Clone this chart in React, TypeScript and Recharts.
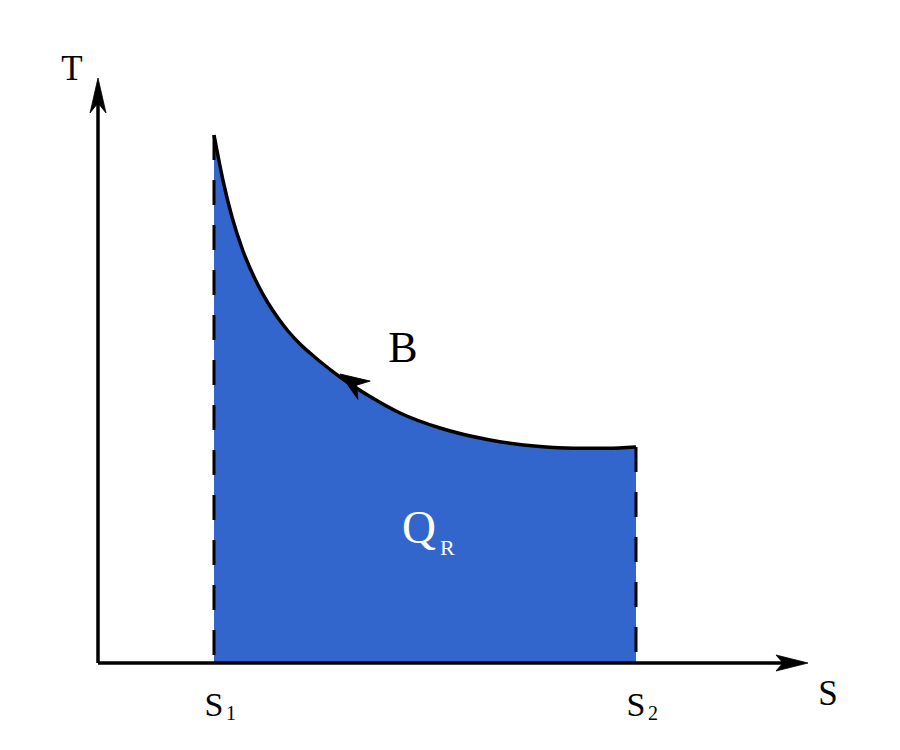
import React from 'react';
import { ComposedChart, Area, XAxis, YAxis, ReferenceLine, ReferenceDot } from 'recharts';

// Entropy (S) and temperature (T) along process B, arbitrary units
const S_VALUES = [1.16, 1.21, 1.26, 1.34, 1.45, 1.6, 1.7, 1.8, 1.9, 2.02, 2.12, 2.22, 2.42, 2.72, 3.02, 3.42, 3.92, 4.42, 4.75, 5.09, 5.38];
const T_VALUES = [5.28, 5.02, 4.78, 4.46, 4.12, 3.78, 3.6, 3.45, 3.32, 3.19, 3.1, 3.015, 2.86, 2.665, 2.5, 2.35, 2.23, 2.165, 2.148, 2.147, 2.16];

const S_TICKS = [1.16, 5.38];
const TICK_MAIN = ['S', 'S'];
const TICK_SUB = ['1', '2'];

const AXIS_X_LABEL = 'S';
const AXIS_Y_LABEL = 'T';
const CURVE_LABEL = 'B';
const HEAT_LABEL = 'Q';
const HEAT_SUB = 'R';

const S_MAX = 6.87;
const T_MAX = 5.63;

const LABEL_B_POS = { s: 3.05, T: 3.01 };
const HEAT_POS = { s: 3.04, T: 1.2 };
const ARROW_AT = { s: 2.42, T: 2.89 };

const data = S_VALUES.map((s, i) => ({ s, T: T_VALUES[i] }));

const FONT = '"Liberation Serif", "DejaVu Serif", serif';
const FILL = '#3366CC';

type ArrowProps = { cx?: number; cy?: number; angle: number; lead: number; len: number; half: number; notch: number };
const ArrowHead = ({ cx = 0, cy = 0, angle, lead, len, half, notch }: ArrowProps) => (
  <g transform={`translate(${cx},${cy}) rotate(${angle})`}>
    <polygon
      points={`${lead},0 ${lead - len},${-half} ${lead - notch},0 ${lead - len},${half}`}
      fill="#000"
      stroke="#000"
      strokeWidth={0.8}
      strokeLinejoin="miter"
    />
  </g>
);

const renderTick = (props: any) => {
  const { x, y, index } = props;
  return (
    <g>
      <text x={x} y={y + 53} textAnchor="middle" fontFamily={FONT} fontSize={34} fill="#000">
        {TICK_MAIN[index]}
      </text>
      <text x={x + 12} y={y + 57} textAnchor="start" fontFamily={FONT} fontSize={20} fill="#000">
        {TICK_SUB[index]}
      </text>
    </g>
  );
};

const renderXLabel = (props: any) => {
  const vb = props.viewBox || {};
  return (
    <text x={vb.x + vb.width + 43} y={vb.y + 42} textAnchor="middle" fontFamily={FONT} fontSize={35} fill="#000">
      {AXIS_X_LABEL}
    </text>
  );
};

const renderYLabel = (props: any) => {
  const vb = props.viewBox || {};
  return (
    <text x={vb.x + vb.width - 26} y={vb.y - 20} textAnchor="middle" fontFamily={FONT} fontSize={35} fill="#000">
      {AXIS_Y_LABEL}
    </text>
  );
};

export default function App() {
  return (
    <div style={{ position: 'absolute', left: 0, top: 0, width: 900, height: 750, background: '#fff' }}>
      <ComposedChart
        width={900}
        height={750}
        data={data}
        margin={{ top: 100, right: 115, bottom: 57, left: 46 }}
      >
        <XAxis
          dataKey="s"
          type="number"
          domain={[0, S_MAX]}
          allowDataOverflow
          ticks={S_TICKS}
          interval={0}
          tickLine={false}
          tickSize={0}
          tickMargin={0}
          height={30}
          axisLine={{ stroke: '#000', strokeWidth: 3.5 }}
          tick={renderTick}
          label={renderXLabel}
        />
        <YAxis
          type="number"
          domain={[0, T_MAX]}
          allowDataOverflow
          width={52}
          tick={false}
          tickLine={false}
          axisLine={{ stroke: '#000', strokeWidth: 3.5 }}
          label={renderYLabel}
        />
        <Area
          dataKey="T"
          type="monotone"
          baseValue={0}
          fill={FILL}
          fillOpacity={1}
          stroke="#000"
          strokeWidth={3.5}
          isAnimationActive={false}
          dot={false}
          activeDot={false}
        />
        <ReferenceLine
          segment={[
            { x: S_VALUES[0], y: T_VALUES[0] },
            { x: S_VALUES[0], y: 0 },
          ]}
          stroke="#000"
          strokeWidth={3}
          strokeDasharray="25 20"
        />
        <ReferenceLine
          segment={[
            { x: S_VALUES[S_VALUES.length - 1], y: T_VALUES[T_VALUES.length - 1] },
            { x: S_VALUES[S_VALUES.length - 1], y: 0 },
          ]}
          stroke="#000"
          strokeWidth={3}
          strokeDasharray="25 20"
        />
        <ReferenceDot
          x={0}
          y={T_MAX}
          r={1}
          ifOverflow="visible"
          shape={(p: any) => <ArrowHead cx={p.cx} cy={p.cy} angle={-90} lead={22} len={35} half={8} notch={25} />}
        />
        <ReferenceDot
          x={S_MAX}
          y={0}
          r={1}
          ifOverflow="visible"
          shape={(p: any) => <ArrowHead cx={p.cx} cy={p.cy} angle={0} lead={23} len={32} half={8} notch={25} />}
        />
        <ReferenceDot
          x={ARROW_AT.s}
          y={ARROW_AT.T}
          r={1}
          ifOverflow="visible"
          shape={(p: any) => <ArrowHead cx={p.cx} cy={p.cy} angle={-146} lead={0} len={29} half={11} notch={20} />}
        />
        <ReferenceDot
          x={LABEL_B_POS.s}
          y={LABEL_B_POS.T}
          r={1}
          ifOverflow="visible"
          shape={(p: any) => (
            <text x={p.cx} y={p.cy} textAnchor="middle" fontFamily={FONT} fontSize={44} fill="#000">
              {CURVE_LABEL}
            </text>
          )}
        />
        <ReferenceDot
          x={HEAT_POS.s}
          y={HEAT_POS.T}
          r={1}
          ifOverflow="visible"
          shape={(p: any) => (
            <text x={p.cx} y={p.cy} textAnchor="start" fontFamily={FONT} fontSize={47} fill="#fff">
              {HEAT_LABEL}
              <tspan fontSize={22} dx={4} dy={12}>
                {HEAT_SUB}
              </tspan>
            </text>
          )}
        />
      </ComposedChart>
    </div>
  );
}
